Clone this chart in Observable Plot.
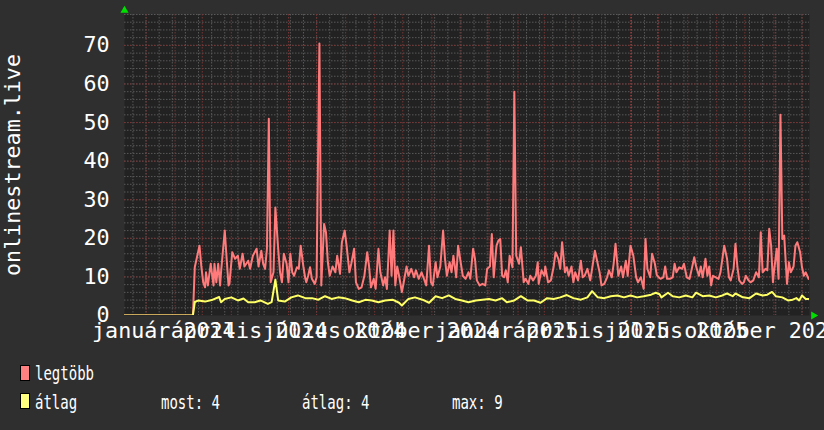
<!DOCTYPE html>
<html><head><meta charset="utf-8">
<script src="https://cdn.jsdelivr.net/npm/d3@7"></script>
<script src="https://cdn.jsdelivr.net/npm/@observablehq/plot@0.6"></script>
<style>
html,body{margin:0;padding:0;background:#2f2f2f;}
#wrap{position:relative;width:824px;height:430px;overflow:hidden;background:#2f2f2f;font-family:"DejaVu Sans Mono",monospace;color:#fff;}
#chart{position:absolute;left:0;top:0;}
#legend{position:absolute;left:0;top:345px;width:824px;height:85px;}
.sw{position:absolute;width:8px;height:14px;border:1px solid #000;}
.lt{position:absolute;font-size:20px;line-height:20px;white-space:pre;transform:scaleX(0.7);transform-origin:0 0;}
</style></head><body>
<div id="wrap"><div id="chart"></div><div id="legend"></div></div>
<script>
// ---- data (day offsets from 2024-01-01, value) ----
const legtobb = [[-23,0],[50,0],[52,12.5],[57,18.1],[59,12.7],[61,8.6],[63,7.3],[64,11.2],[66,7.8],[69,13.4],[72,7.8],[73,13.4],[75,8.6],[77,13.4],[79,7.8],[80,11.2],[84,22],[86,14.7],[88,7.8],[89,8.2],[92,16.4],[95,14.7],[98,15.5],[100,12.1],[103,16],[105,12.7],[109,14.2],[111,12.1],[114,15.5],[118,17.3],[120,12.7],[123,16.8],[125,13.4],[127,12.1],[129,17.3],[131,51],[133,8.6],[136,11.2],[138,28],[141,17.3],[143,11.2],[145,8.6],[147,16],[150,13.4],[152,8.6],[154,16],[156,11.2],[158,10.3],[161,12.5],[163,12.1],[165,18.1],[168,12.5],[170,9.5],[171,8.6],[173,10.3],[175,12.5],[177,9.5],[180,8.2],[182,9.9],[185,70.5],[187,7.8],[190,23.7],[192,21.6],[194,13.8],[196,10.3],[199,12.7],[202,11.2],[204,15.5],[207,10.8],[209,19],[212,22],[214,18.1],[217,11.2],[219,13.4],[222,17.3],[224,8.6],[227,6.9],[230,7.3],[233,10.3],[236,16.4],[238,12.7],[240,7.3],[243,9.5],[245,6.9],[248,17.3],[250,11.2],[253,7.8],[255,9.9],[257,6.9],[260,22],[262,10.3],[264,22],[266,7.8],[268,12.7],[270,10.3],[273,6.1],[275,8.6],[278,12.7],[280,10.3],[283,12.1],[286,9.9],[288,11.7],[291,9.5],[294,11.2],[296,9.9],[299,7.8],[302,18.1],[304,8.6],[306,7.8],[309,13.8],[311,9.9],[314,12.7],[317,22],[319,14.7],[321,10.3],[324,13.8],[326,11.2],[328,15.5],[331,9.9],[333,18.1],[336,13.4],[338,10.3],[341,9.5],[344,11.2],[346,9.5],[349,17.3],[351,14.7],[353,9.1],[356,7.8],[359,8.2],[362,7.8],[364,12.1],[367,12.7],[369,21.1],[371,9.9],[374,18.1],[376,19.4],[378,19.8],[380,10.3],[382,9.9],[384,11.7],[386,8.6],[388,15.5],[391,12.5],[393,58],[395,15.5],[398,13.4],[400,17.7],[403,8.6],[405,9.5],[408,8.2],[410,10.3],[413,9.1],[416,10.3],[418,13.8],[419,8.2],[422,11.7],[425,10.3],[426,12.7],[429,8.6],[432,9.1],[435,12.7],[437,16.4],[440,14.7],[442,12.1],[444,19],[447,11.2],[449,12.5],[451,10.3],[454,12.7],[456,8.6],[458,11.2],[461,9.1],[464,14.2],[466,9.9],[468,10.3],[471,12.1],[474,9.1],[476,12.1],[479,16.8],[482,13.4],[484,11.2],[486,7.8],[489,8.2],[492,9.9],[494,11.7],[497,9.9],[499,13.4],[501,18.6],[504,10.3],[507,12.7],[509,9.9],[512,14.2],[514,10.3],[517,18.1],[520,15.5],[523,9.9],[525,8.6],[528,9.9],[531,6.9],[533,19.8],[535,12.1],[538,9.9],[540,16],[543,13.4],[545,10.5],[547,9.9],[549,9.5],[552,9.9],[554,12.7],[556,9.5],[559,9.5],[562,9.9],[564,13.4],[566,11.2],[569,12.5],[572,12.1],[574,13.4],[577,9.9],[580,9.5],[582,11.7],[585,15.1],[587,12.7],[590,10.3],[592,12.7],[594,9.9],[597,14.7],[599,10.3],[601,12.7],[603,7.8],[605,10.3],[608,9.9],[611,9.5],[613,11.2],[617,18.1],[620,14.7],[622,9.9],[624,9.1],[627,12.1],[629,18.6],[631,12.7],[633,9.1],[636,8.2],[638,8.6],[640,10.3],[643,9.1],[645,8.6],[648,9.1],[651,11.2],[654,9.9],[656,21.6],[658,11.2],[661,12.1],[663,11.7],[665,22.5],[667,18.1],[669,8.6],[670,11.2],[673,17.3],[675,9.5],[677,52],[679,19.8],[681,20.7],[684,8.2],[686,13.8],[688,11.2],[691,12.7],[693,18.1],[695,19],[698,16.4],[700,12.5],[702,10.3],[704,11.2],[707,9.5]];
const atlag = [[-23,0],[50,0],[52,3.5],[56,3.9],[63,3.6],[70,4.0],[78,4.8],[80,3.45],[84,4.3],[91,4.7],[98,3.9],[104,4.4],[109,3.45],[116,3.45],[122,3.9],[130,3.0],[134,3.45],[138,9.3],[141,3.9],[148,3.6],[155,4.7],[162,5.2],[170,4.5],[177,4.5],[184,4.1],[191,5.0],[198,4.3],[205,4.7],[212,4.5],[220,3.9],[227,3.45],[234,4.06],[241,3.9],[248,3.45],[255,3.9],[263,4.1],[270,3.3],[273,2.6],[280,4.3],[287,4.7],[295,4.1],[302,3.3],[309,5.0],[316,4.5],[323,5.2],[330,4.3],[337,3.9],[344,3.45],[352,3.9],[359,4.1],[366,4.3],[373,3.9],[380,4.5],[385,3.45],[393,3.9],[400,5.0],[407,3.9],[414,3.9],[421,3.3],[428,4.5],[435,4.3],[442,4.7],[449,5.3],[456,4.5],[464,4.1],[471,4.7],[476,6.3],[482,4.7],[489,4.5],[496,5.0],[503,5.2],[510,4.7],[517,5.2],[524,4.7],[531,5.0],[539,5.4],[544,5.9],[548,5.5],[550,4.7],[557,5.9],[562,5.0],[569,4.7],[576,5.2],[583,4.7],[587,5.9],[594,5.0],[601,5.2],[608,4.7],[615,5.2],[620,5.7],[626,5.0],[629,5.7],[637,4.7],[644,4.5],[651,5.7],[658,5.2],[663,5.4],[668,6.1],[672,5.0],[679,4.7],[685,3.9],[690,4.1],[694,4.5],[697,3.9],[700,5.2],[704,4.3],[707,4.3]];
const yTicks = [0,10,20,30,40,50,60,70];
const huMonths = ["január","február","március","április","május","június","július","augusztus","szeptember","október","november","december"];
const yTitle = "onlinestream.live";
const seriesNames = ["legtöbb","átlag"];
const stats = {most: 4, atlag: 4, max: 9};

// ---- build ----
const DAY = 864e5;
const base = Date.UTC(2024,0,1);
const start = new Date(Date.UTC(2023,11,9));
const end = new Date(Date.UTC(2025,11,9));
const toRows = arr => arr.map(([d,v]) => ({t: new Date(base + d*DAY), v}));
const redRows = toRows(legtobb), yelRows = toRows(atlag);
const months = d3.utcMonth.range(start, end);
const quarters = d3.utcMonth.every(3).range(start, end);
const anchor = Date.UTC(2025,5,16);
const biweekly = d3.range(-60,60).map(k => new Date(anchor + k*14*DAY)).filter(d => d > start && d < end);
const yMinor = d3.range(2, 79, 2);
const yMajor = d3.range(10, 79, 10);
const labelPos = quarters.map(q => ({t: new Date(+q + 19*DAY), q}));

const minorC = "#595959", majorC = "#773434";
const axisFont = 21.7;
const chart = Plot.plot({
  width: 824, height: 345,
  marginTop: 14, marginBottom: 30, marginLeft: 124, marginRight: 15,
  style: {background: "transparent", color: "#fff", fontFamily: "'DejaVu Sans Mono', monospace", overflow: "visible"},
  x: {type: "utc", domain: [start, end], axis: null},
  y: {domain: [0, 78]},
  marks: [
    Plot.frame({fill: "#222222", stroke: null}),
    Plot.ruleY(yMinor, {stroke: minorC, strokeDasharray: "1.5,1.5"}),
    Plot.ruleX(biweekly, {stroke: minorC, strokeDasharray: "1.5,1.5"}),
    Plot.ruleY(yMajor, {stroke: majorC, strokeDasharray: "1.5,1.5"}),
    Plot.ruleX(months, {stroke: majorC, strokeDasharray: "1.5,1.5"}),
    Plot.line(redRows, {x: "t", y: "v", stroke: "#ff7b7b", strokeWidth: 2, clip: true}),
    Plot.line(yelRows, {x: "t", y: "v", stroke: "#ffff66", strokeWidth: 2, clip: true}),
    Plot.axisY({ticks: yTicks, tickSize: 0, tickPadding: 15, fontSize: axisFont, label: null, fill: "#fff"}),
    Plot.text(labelPos, {x: "t", frameAnchor: "bottom", text: d => huMonths[d.q.getUTCMonth()] + " " + d.q.getUTCFullYear(), lineAnchor: "top", dy: 7, fontSize: axisFont, fill: "#fff"}),
    Plot.text([yTitle], {frameAnchor: "left", textAnchor: "middle", rotate: -90, dx: -111, fontSize: axisFont, fill: "#fff"}),
    Plot.dot([0], {frameAnchor: "top-left", symbol: "triangle", r: 3, fill: "#00e000", dy: -4}),
    Plot.dot([0], {frameAnchor: "bottom-right", symbol: "triangle", r: 3, fill: "#00e000", rotate: 90, dx: 4})
  ]
});
document.getElementById("chart").append(chart);

// ---- legend ----
const colors = ["#ff8080", "#ffff80"];
const lg = document.getElementById("legend");
function add(cls, left, top, txt, bg){
  const el = document.createElement("div");
  el.className = cls; el.style.left = left + "px"; el.style.top = top + "px";
  if (bg) el.style.background = bg; if (txt != null) el.textContent = txt;
  lg.append(el);
}
add("sw", 20, 20, null, colors[0]);
add("sw", 20, 48, null, colors[1]);
add("lt", 35, 17.5, seriesNames[0]);
add("lt", 35, 46.5, seriesNames[1]);
add("lt", 161, 46.5, "most: " + stats.most);
add("lt", 302, 46.5, "átlag: " + stats.atlag);
add("lt", 452, 46.5, "max: " + stats.max);
</script>
</body></html>
